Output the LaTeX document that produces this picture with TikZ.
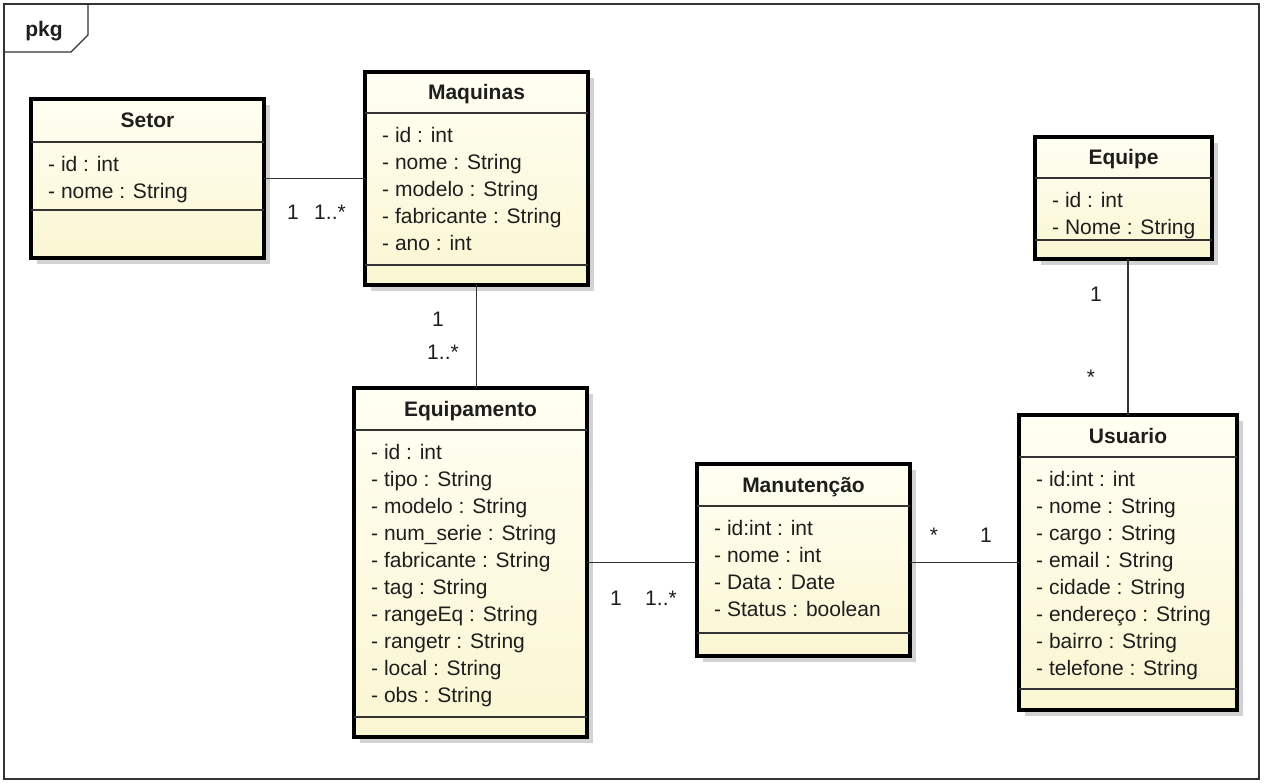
\documentclass[tikz,border=0pt]{standalone}
\usepackage{fontspec}
\setmainfont{Liberation Sans}
\usetikzlibrary{calc}

\definecolor{ink}{HTML}{1E1E1E}
\definecolor{rule}{HTML}{333333}
\definecolor{classtop}{HTML}{FFFFF3}
\definecolor{classbot}{HTML}{FAF6D2}
\definecolor{shadowgray}{HTML}{D2D2D2}

\tikzset{
  frameline/.style={draw=rule, line width=1.3pt},
  classbox/.style={rectangle, draw=black, line width=3.2pt, inner sep=0pt, outer sep=0pt,
                   top color=classtop, bottom color=classbot},
  boxshadow/.style={fill=shadowgray},
  sepline/.style={draw=rule, line width=1.5pt},
  titletext/.style={font=\fontsize{21}{25}\selectfont\bfseries, text=ink, inner sep=0pt, anchor=base},
  attrtext/.style={font=\fontsize{21}{25}\selectfont, text=ink, inner sep=0pt, anchor=base west},
  assoc/.style={draw=rule, line width=1.5pt},
  mult/.style={font=\fontsize{21}{25}\selectfont, text=ink, inner sep=0pt, anchor=base},
}

% #1 name, #2 left, #3 top, #4 right, #5 bottom, #6 title rule, #7 operations rule, #8 title, #9 attributes
\newcommand\umlclass[9]{%
  \fill[boxshadow] (#2+6,#3+6) rectangle (#4+6,#5+6);
  \node[classbox, minimum width={#4-#2}, minimum height={#5-#3}] (#1) at ({(#2+#4)/2},{(#3+#5)/2}) {};
  \draw[sepline] (#2,#6) -- (#4,#6);
  \draw[sepline] (#2,#7) -- (#4,#7);
  \node[titletext] (#1-title) at ({(#2+#4)/2},{(#3+#6)/2+7.5}) {#8};
  \foreach \a [count=\i from 0] in {#9}
    \node[attrtext] (#1-attr\i) at (#2+17,{#6+29.5+27*\i}) {\a};
}

\begin{document}
\begin{tikzpicture}[x=1pt,y=-1pt]
  \fill[white] (0,0) rectangle (1264,783);
  \useasboundingbox (0,0) rectangle (1264,783);

  % package frame and its name tab
  \draw[frameline] (4,4) rectangle (1259,779);
  \draw[frameline] (4,52) -- (71,52) -- (88,35) -- (88,4);
  \node[titletext, anchor=center] (pkg) at (44,31) {pkg};

  % classes
  \umlclass{setor}{31}{99}{264}{258}{142}{210}{Setor}
    {- id : int, - nome : String}
  \umlclass{maquinas}{365}{72}{588}{285}{113}{265}{Maquinas}
    {- id : int, - nome : String, - modelo : String, - fabricante : String, - ano : int}
  \umlclass{equipamento}{354}{388}{587}{737}{430}{717}{Equipamento}
    {- id : int, - tipo : String, - modelo : String, - num\_serie : String, - fabricante : String,
     - tag : String, - rangeEq : String, - rangetr : String, - local : String, - obs : String}
  \umlclass{manutencao}{697}{464}{910}{656}{506}{633}{Manutenção}
    {- id:int : int, - nome : int, - Data : Date, - Status : boolean}
  \umlclass{usuario}{1019}{415}{1237}{710}{457}{689}{Usuario}
    {- id:int : int, - nome : String, - cargo : String, - email : String, - cidade : String,
     - endereço : String, - bairro : String, - telefone : String}
  \umlclass{equipe}{1035}{137}{1212}{259}{178}{240}{Equipe}
    {- id : int, - Nome : String}

  % associations
  \draw[assoc] (setor.east) -- (setor.east -| maquinas.west);
  \draw[assoc] (maquinas.south) -- (maquinas.south |- equipamento.north);
  \draw[assoc] (equipamento.east) -- (equipamento.east -| manutencao.west);
  \draw[assoc] (manutencao.east |- usuario.west) -- (usuario.west);
  \draw[assoc] (usuario.north) -- (usuario.north |- equipe.south);

  % multiplicities
  \node[mult] (m-setor) at (293,220) {1};
  \node[mult] (m-maq1) at (330,220) {1..*};
  \node[mult] (m-maq2) at (438,327) {1};
  \node[mult] (m-equip1) at (443,360) {1..*};
  \node[mult] (m-equip2) at (616,605) {1};
  \node[mult] (m-manut1) at (661,605) {1..*};
  \node[mult] (m-manut2) at (934,542) {*};
  \node[mult] (m-usu1) at (986,542) {1};
  \node[mult] (m-equipe) at (1096,302) {1};
  \node[mult] (m-usu2) at (1091,385) {*};
\end{tikzpicture}
\end{document}
